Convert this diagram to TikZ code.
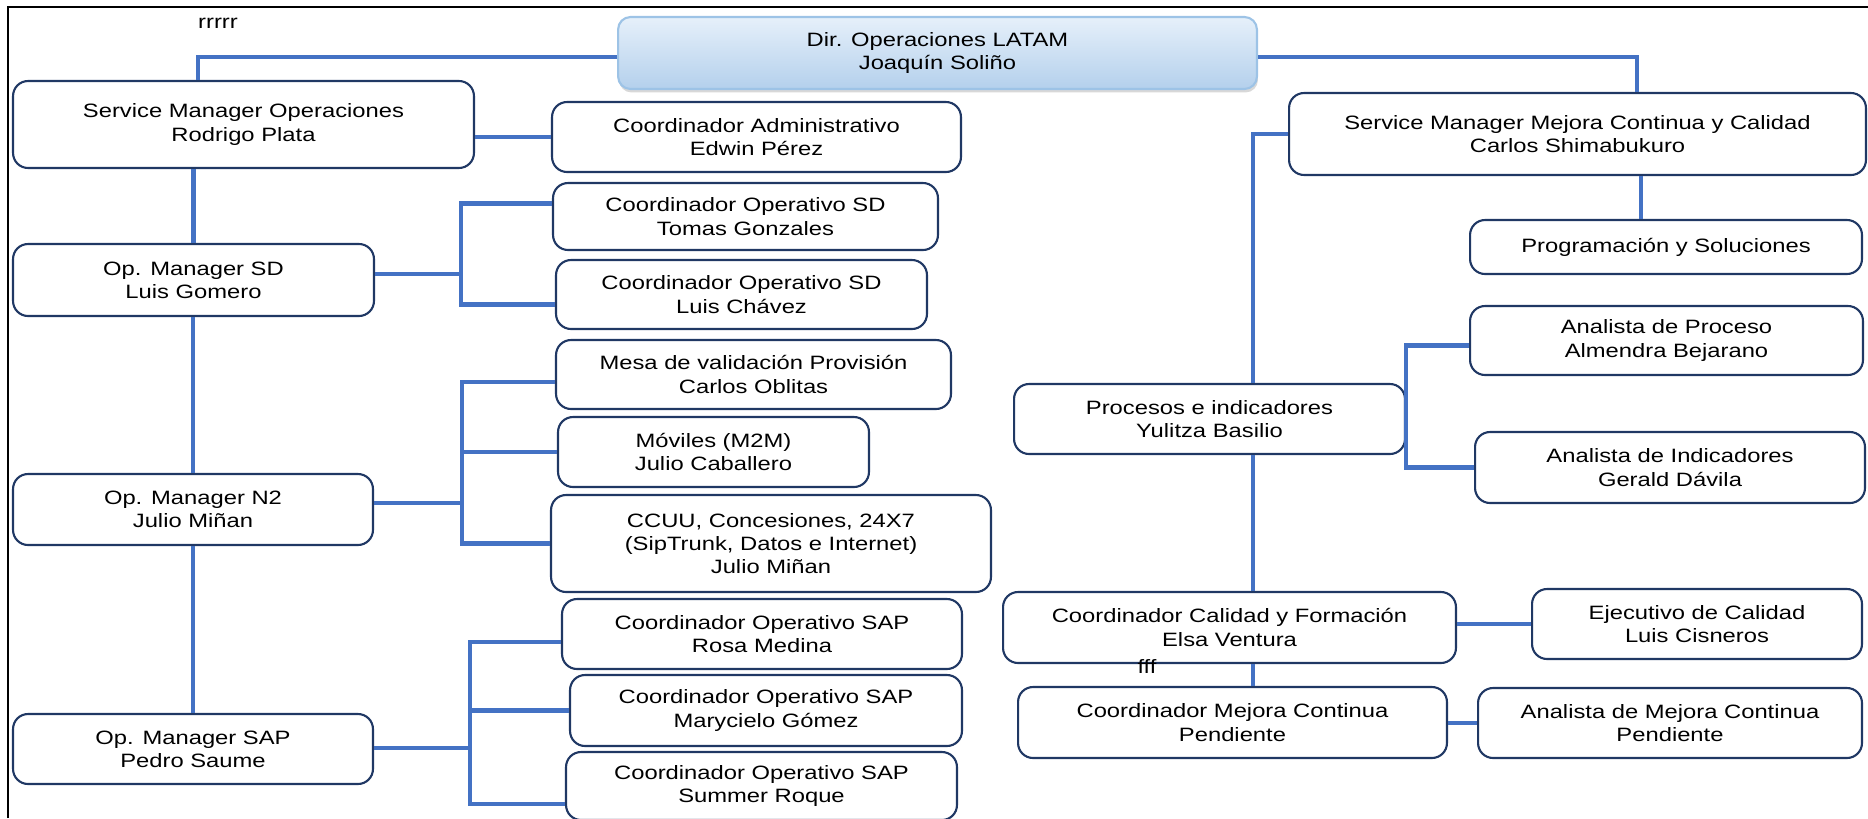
\documentclass[tikz,border=0pt]{standalone}
\usepackage{fontspec}
\setmainfont{Liberation Sans}[FakeStretch=1.23]
\usetikzlibrary{calc,shadows}

\definecolor{azulborde}{RGB}{32,56,100}
\definecolor{azullinea}{RGB}{68,114,196}
\definecolor{celeste}{RGB}{157,195,230}
\definecolor{celesteclaro}{RGB}{230,240,250}
\definecolor{celesteosc}{RGB}{180,208,236}

\tikzset{
  puesto/.style={draw=azulborde, line width=1.2pt, rounded corners=0.3cm, fill=white,
    align=center, inner sep=0pt, font=\fontsize{11}{13.2}\selectfont},
  director/.style={puesto, draw=celeste, top color=celesteclaro, bottom color=celesteosc,
    rounded corners=0.25cm, drop shadow={shadow xshift=0.02cm, shadow yshift=-0.07cm, fill=black!30}},
  linea/.style={draw=azullinea, line width=2.3pt},
  nota/.style={font=\fontsize{11}{13.2}\selectfont}
}

\begin{document}
\begin{tikzpicture}[x=0.02cm,y=-0.02cm]
\useasboundingbox (0,0) rectangle (1868,818);
\clip (0,0) rectangle (1868,818);

\draw [black, line width=0.8pt] (8,818) -- (8,7) -- (1868,7);
\node[nota] (marca) at (218,23) {rrrrr};

% direccion
\node[director, minimum width=12.78cm, minimum height=1.44cm] (dir) at (937.5,53) {Dir. Operaciones LATAM\\Joaquín Soliño};

% operaciones
\node[puesto, minimum width=9.22cm, minimum height=1.74cm] (smops) at (243.5,124.5) {Service Manager Operaciones\\Rodrigo Plata};
\node[puesto, minimum width=8.18cm, minimum height=1.40cm] (coadm) at (756.5,137) {Coordinador Administrativo\\Edwin Pérez};
\node[puesto, minimum width=7.22cm, minimum height=1.44cm] (opsd) at (193.5,280) {Op. Manager SD\\Luis Gomero};
\node[puesto, minimum width=7.70cm, minimum height=1.34cm] (cosd1) at (745.5,216.5) {Coordinador Operativo SD\\Tomas Gonzales};
\node[puesto, minimum width=7.42cm, minimum height=1.38cm] (cosd2) at (741.5,294.5) {Coordinador Operativo SD\\Luis Chávez};
\node[puesto, minimum width=7.20cm, minimum height=1.42cm] (opn2) at (193,509.5) {Op. Manager N2\\Julio Miñan};
\node[puesto, minimum width=7.90cm, minimum height=1.38cm] (mesa) at (753.5,374.5) {Mesa de validación Provisión\\Carlos Oblitas};
\node[puesto, minimum width=6.22cm, minimum height=1.40cm] (moviles) at (713.5,452) {Móviles (M2M)\\Julio Caballero};
\node[puesto, minimum width=8.80cm, minimum height=1.94cm] (ccuu) at (771,543.5) {CCUU, Concesiones, 24X7\\(SipTrunk, Datos e Internet)\\Julio Miñan};
\node[puesto, minimum width=7.20cm, minimum height=1.40cm] (opsap) at (193,749) {Op. Manager SAP\\Pedro Saume};
\node[puesto, minimum width=8.00cm, minimum height=1.40cm] (sap1) at (762,634) {Coordinador Operativo SAP\\Rosa Medina};
\node[puesto, minimum width=7.84cm, minimum height=1.42cm] (sap2) at (766,710.5) {Coordinador Operativo SAP\\Marycielo Gómez};
\node[puesto, minimum width=7.82cm, minimum height=1.36cm] (sap3) at (761.5,786) {Coordinador Operativo SAP\\Summer Roque};

% mejora continua
\node[puesto, minimum width=11.54cm, minimum height=1.64cm] (smmc) at (1577.5,134) {Service Manager Mejora Continua y Calidad\\Carlos Shimabukuro};
\node[puesto, minimum width=7.84cm, minimum height=1.08cm] (prog) at (1666,247) {Programación y Soluciones};
\node[puesto, minimum width=7.86cm, minimum height=1.38cm] (anproc) at (1666.5,340.5) {Analista de Proceso\\Almendra Bejarano};
\node[puesto, minimum width=7.80cm, minimum height=1.42cm] (angerald) at (1670,467.5) {Analista de Indicadores\\Gerald Dávila};
\node[puesto, minimum width=7.82cm, minimum height=1.40cm] (procesos) at (1209.5,419) {Procesos e indicadores\\Yulitza Basilio};
\node[puesto, minimum width=9.06cm, minimum height=1.42cm] (cocal) at (1229.5,627.5) {Coordinador Calidad y Formación\\Elsa Ventura};
\node[puesto, minimum width=6.60cm, minimum height=1.40cm] (ejec) at (1697,624) {Ejecutivo de Calidad\\Luis Cisneros};
\node[puesto, minimum width=8.58cm, minimum height=1.42cm] (comej) at (1232.5,722.5) {Coordinador Mejora Continua\\Pendiente};
\node[puesto, minimum width=7.68cm, minimum height=1.40cm] (anmej) at (1670,723) {Analista de Mejora Continua\\Pendiente};
\node[nota] (marca2) at (1147,666) {fff};

% enlaces
\draw[linea] ([yshift=-0.08cm]dir.west) -| ([xshift=-0.91cm]smops.north);
\draw[linea] ([yshift=-0.08cm]dir.east) -| ([xshift=1.19cm]smmc.north);
\draw[linea] (smops.east |- coadm.west) -- (coadm.west);
\draw[linea] (opsd.north) -- (opsd.north |- smops.south);
\draw[linea] (opn2.north) -- (opn2.north |- opsd.south);
\draw[linea] (opsap.north) -- (opsap.north |- opn2.south);

\coordinate (busSD) at (461,274);
\draw[linea] (opsd.east |- busSD) -- (busSD);
\draw[linea] ([yshift=0.26cm]cosd1.west) -| (busSD) |- ([yshift=-0.2cm]cosd2.west);

\coordinate (busN2) at (462,503);
\draw[linea] (opn2.east |- busN2) -- (busN2);
\draw[linea] ([yshift=-0.15cm]mesa.west) -| (busN2) |- (ccuu.west);
\draw[linea] (moviles.west) -- (moviles.west -| busN2);

\coordinate (busSAP) at (470,748);
\draw[linea] (opsap.east |- busSAP) -- (busSAP);
\draw[linea] ([yshift=-0.16cm]sap1.west) -| (busSAP) |- ([yshift=-0.36cm]sap3.west);
\draw[linea] (sap2.west) -- (sap2.west -| busSAP);

\coordinate (busMC) at (1253,130);
\draw[linea] (smmc.west) -| (busMC |- procesos.north);
\draw[linea] (busMC |- procesos.south) -- (busMC |- cocal.north);
\draw[linea] (busMC |- cocal.south) -- (busMC |- comej.north);
\coordinate (smmcdrop) at ($(smmc.south west)!.61!(smmc.south east)$);
\draw[linea] (smmcdrop) -- (smmcdrop |- prog.north);
\draw[linea] ([yshift=-0.1cm]anproc.west) -| (procesos.east |- angerald.west) -- (angerald.west);
\draw[linea] (cocal.east |- ejec.west) -- (ejec.west);
\draw[linea] (comej.east |- anmej.west) -- (anmej.west);

\end{tikzpicture}
\end{document}
